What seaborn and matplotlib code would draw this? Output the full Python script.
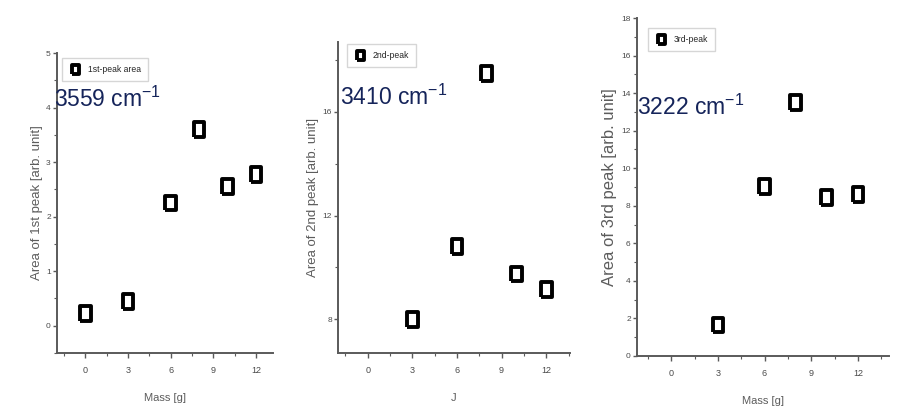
import numpy as np
import pandas as pd
import matplotlib
matplotlib.use("Agg")
import matplotlib.pyplot as plt
from matplotlib.ticker import MultipleLocator
import seaborn as sns

# ---- data ----
mass_1 = [0, 3, 6, 8, 10, 12]
peak1_area = [0.22, 0.45, 2.25, 3.6, 2.55, 2.77]
mass_23 = [3, 6, 8, 10, 12]
peak2_area = [8.0, 10.8, 17.5, 9.75, 9.15]
peak3_area = [1.65, 9.05, 13.5, 8.45, 8.6]

legend_labels = ["1st-peak area", "2nd-peak", "3rd-peak"]
wavenumbers = ["3559", "3410", "3222"]
y_labels = ["Area of 1st peak [arb. unit]", "Area of 2nd peak [arb. unit]",
            "Area of 3rd peak [arb. unit]"]
x_labels = ["Mass [g]", "J", "Mass [g]"]
x_ticks = [0, 3, 6, 9, 12]

sns.set_style("ticks")
plt.rcParams["font.family"] = ["Liberation Sans", "DejaVu Sans"]
plt.rcParams["mathtext.default"] = "regular"

W, H = 911, 416
fig = plt.figure(figsize=(W / 100, H / 100), dpi=100)
fig.patch.set_facecolor("white")

def frac(l, t, r, b):
    return [l / W, 1 - b / H, (r - l) / W, (b - t) / H]

axes_px = [(57, 53, 273, 353), (338, 42, 570, 353), (637, 18, 889, 356)]
xlims = [(-2, 13.2), (-2, 13.6), (-2.2, 14.0)]
ylims = [(-0.5, 5), (6.7, 18.7), (0, 18)]
ymajor = [1, 4, 2]
yminor = [0.5, 2, 1]
datasets = [(mass_1, peak1_area), (mass_23, peak2_area), (mass_23, peak3_area)]
leg_anchor_px = [(62, 58), (347, 44), (648, 28)]
text_px = [(54, 107), (340, 105), (637, 115)]
ylabel_size = [9.5, 9.5, 12]
ylabel_pad = [2.5, 2.5, 3.0]

rect_marker = [(-0.72, -1), (0.72, -1), (0.72, 1), (-0.72, 1), (-0.72, -1)]
spine_col = "#5a5a5a"
tick_col = "#4a4a4a"
label_col = "#5c5c5c"

for i in range(3):
    ax = fig.add_axes(frac(*axes_px[i]))
    xs, ys = datasets[i]
    df = pd.DataFrame({"x": xs, "y": ys})
    sns.scatterplot(data=df, x="x", y="y", ax=ax, marker=rect_marker, s=115,
                    facecolor="none", edgecolor="black", linewidth=2.8,
                    label=legend_labels[i], zorder=3, clip_on=False)
    ax.set_xlim(*xlims[i])
    ax.set_ylim(*ylims[i])
    ax.set_xticks(x_ticks)
    ax.xaxis.set_minor_locator(MultipleLocator(1.5))
    ax.yaxis.set_major_locator(MultipleLocator(ymajor[i]))
    ax.yaxis.set_minor_locator(MultipleLocator(yminor[i]))
    sns.despine(ax=ax)
    for sp in ("left", "bottom"):
        ax.spines[sp].set_color(spine_col)
        ax.spines[sp].set_linewidth(1.4)
    ax.tick_params(axis="x", which="major", length=3.5, width=1.0,
                   color=spine_col, labelsize=6.5, labelcolor=tick_col, pad=6)
    ax.tick_params(axis="y", which="major", length=3.0, width=1.0,
                   color=spine_col, labelsize=6.0, labelcolor=tick_col, pad=1.5)
    ax.tick_params(axis="both", which="minor", length=2, width=0.8, color=spine_col)
    ax.set_xlabel(x_labels[i], fontsize=8, color=label_col, labelpad=13)
    ax.set_ylabel(y_labels[i], fontsize=ylabel_size[i], color=label_col,
                  labelpad=ylabel_pad[i])
    lx, ly = leg_anchor_px[i]
    ax.legend(loc="upper left", bbox_to_anchor=(lx / W, 1 - ly / H),
              bbox_transform=fig.transFigure, fontsize=6.2, markerscale=0.6,
              frameon=True, fancybox=False, edgecolor="#cccccc",
              borderpad=0.8, handletextpad=0.7, handlelength=1.5,
              borderaxespad=0)
    tx, ty = text_px[i]
    fig.text(tx / W, 1 - ty / H, wavenumbers[i] + r" cm$^{-1}$",
             color="#15245a", ha="left", va="baseline",
             family="Liberation Sans", fontsize=16.5)

fig.savefig("out.png", dpi=100, facecolor="white")
